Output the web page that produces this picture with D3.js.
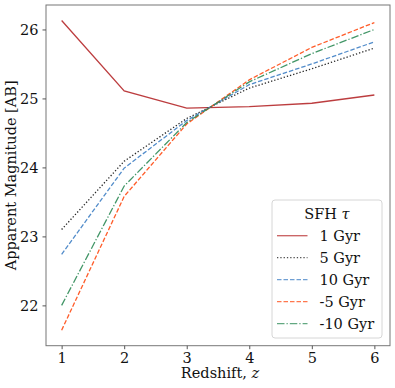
<!DOCTYPE html>
<html>
<head>
<meta charset="utf-8">
<script src="https://cdn.jsdelivr.net/npm/d3@7"></script>
<style>
  body { margin: 0; background: #fff; }
  text { font-family: "DejaVu Serif", serif; fill: #111; }
</style>
</head>
<body>
<svg id="chart" width="395" height="388"></svg>
<script>
const redshift = [1, 2, 3, 4, 5, 6];
const tauLabels = ["1 Gyr", "5 Gyr", "10 Gyr", "-5 Gyr", "-10 Gyr"];
const mag1 = [26.13, 25.11, 24.86, 24.88, 24.93, 25.05];
const mag5 = [23.10, 24.09, 24.71, 25.15, 25.43, 25.73];
const mag10 = [22.74, 23.99, 24.68, 25.20, 25.50, 25.82];
const magNeg5 = [21.64, 23.58, 24.63, 25.27, 25.74, 26.10];
const magNeg10 = [22.00, 23.73, 24.65, 25.24, 25.65, 26.00];
const xTicks = [1, 2, 3, 4, 5, 6];
const yTicks = [22, 23, 24, 25, 26];

const series = [
  { label: tauLabels[0], values: mag1, color: "#b5282a", dash: null },
  { label: tauLabels[1], values: mag5, color: "#111111", dash: "1.3,2" },
  { label: tauLabels[2], values: mag10, color: "#3f7fc4", dash: "4.5,2" },
  { label: tauLabels[3], values: magNeg5, color: "#ff4a12", dash: "4.5,2" },
  { label: tauLabels[4], values: magNeg10, color: "#2e8b57", dash: "7.5,2,1.3,2" }
];

const svg = d3.select("#chart");
const plotL = 46, plotR = 390, plotT = 5, plotB = 345.7;

// matplotlib style 5% padding
function padded(lo, hi) {
  const p = (hi - lo) * 0.05;
  return [lo - p, hi + p];
}
const allVals = series.flatMap(s => s.values);
const x = d3.scaleLinear().domain(padded(d3.min(redshift), d3.max(redshift))).range([plotL, plotR]);
const y = d3.scaleLinear().domain(padded(d3.min(allVals), d3.max(allVals))).range([plotB, plotT]);

const line = d3.line().x((d, i) => x(redshift[i])).y(d => y(d));

svg.append("g")
  .selectAll("path")
  .data(series)
  .enter().append("path")
  .attr("d", d => line(d.values))
  .attr("fill", "none")
  .attr("stroke", d => d.color)
  .attr("stroke-width", 1.3)
  .attr("stroke-opacity", 0.9)
  .attr("stroke-dasharray", d => d.dash);

// frame
svg.append("rect")
  .attr("x", plotL).attr("y", plotT)
  .attr("width", plotR - plotL).attr("height", plotB - plotT)
  .attr("fill", "none").attr("stroke", "#777").attr("stroke-width", 1);

const xAxis = svg.append("g")
  .attr("transform", `translate(0,${plotB})`)
  .call(d3.axisBottom(x).tickValues(xTicks).tickSize(3.5).tickPadding(4).tickFormat(d3.format("d")));
const yAxis = svg.append("g")
  .attr("transform", `translate(${plotL},0)`)
  .call(d3.axisLeft(y).tickValues(yTicks).tickSize(3.5).tickPadding(4).tickFormat(d3.format("d")));

[xAxis, yAxis].forEach(a => {
  a.select(".domain").remove();
  a.selectAll("line").attr("stroke", "#555");
  a.selectAll("text").attr("font-family", "DejaVu Serif").attr("font-size", 14.5).attr("fill", "#111");
});

const xl = svg.append("text")
  .attr("x", (plotL + plotR) / 2 + 2).attr("y", 378)
  .attr("text-anchor", "middle").attr("font-size", 14.5);
xl.append("tspan").text("Redshift, ");
xl.append("tspan").attr("font-style", "italic").text("z");

svg.append("text")
  .attr("transform", `translate(16,${(plotT + plotB) / 2}) rotate(-90)`)
  .attr("text-anchor", "middle").attr("font-size", 14.5)
  .text("Apparent Magnitude [AB]");

// legend
const lg = svg.append("g").attr("transform", "translate(272,200)");
lg.append("rect")
  .attr("width", 110).attr("height", 138).attr("rx", 3)
  .attr("fill", "#fff").attr("fill-opacity", 0.8)
  .attr("stroke", "#d6d6d6").attr("stroke-width", 1);
const title = lg.append("text").attr("x", 55).attr("y", 18.7)
  .attr("text-anchor", "middle").attr("font-size", 14.5);
title.append("tspan").text("SFH ");
title.append("tspan").attr("font-style", "italic").text("τ");

const item = lg.selectAll(".item")
  .data(series)
  .enter().append("g")
  .attr("transform", (d, i) => `translate(0,${40.7 + i * 22})`);
item.append("line")
  .attr("x1", 5).attr("x2", 35.5).attr("y1", -5).attr("y2", -5)
  .attr("stroke", d => d.color)
  .attr("stroke-width", 1.3)
  .attr("stroke-opacity", 0.75)
  .attr("stroke-dasharray", d => d.dash);
item.append("text")
  .attr("x", 47.5).attr("y", 0)
  .attr("font-size", 14.5)
  .text(d => d.label);
</script>
</body>
</html>
